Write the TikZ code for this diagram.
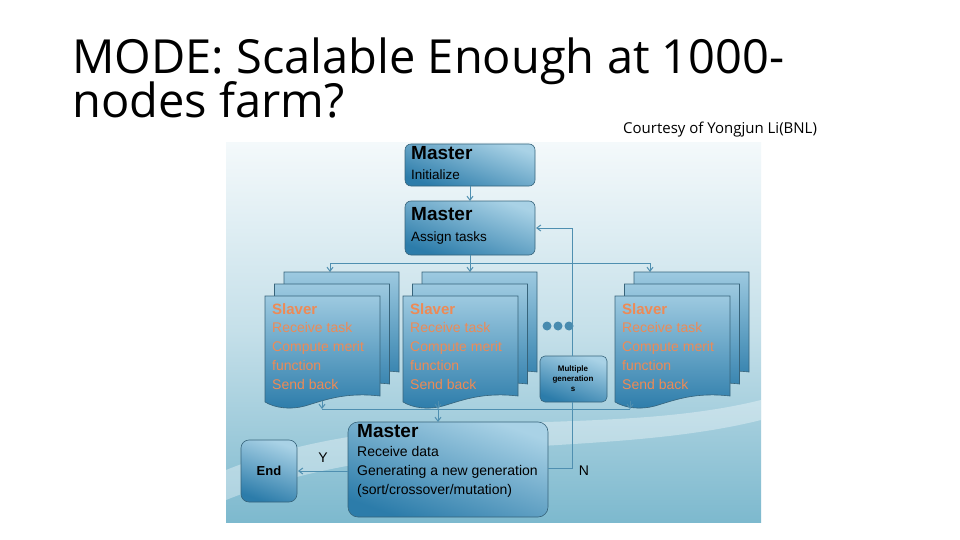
\documentclass[tikz,border=0pt]{standalone}
\usepackage{fontspec}
\setmainfont{Liberation Sans}
\newfontfamily\titlefont{Open Sans}
\usetikzlibrary{arrows.meta}
\definecolor{bl}{HTML}{A9D2E6}
\definecolor{bd}{HTML}{2C7CAA}
\definecolor{ln}{HTML}{4F8FB0}
\definecolor{og}{HTML}{EE8A55}
\definecolor{bgt}{HTML}{F4F9FB}
\definecolor{bgb}{HTML}{7DB9CE}
\tikzset{
  mbox/.style={draw=ln!70!black, line width=0.6pt, rounded corners=6pt, top color=bl, bottom color=bd, shading angle=-20},
  conn/.style={ln, line width=1pt, -{Straight Barb[length=4pt,width=6pt]}},
  plain/.style={ln, line width=1pt},
  ttl/.style={font=\bfseries\fontsize{19}{20}\selectfont, anchor=north west, inner sep=0},
  sub/.style={font=\fontsize{13.5}{16}\selectfont, anchor=north west, inner sep=0, align=left},
  bigt/.style={font=\titlefont\fontsize{47}{44}\selectfont, anchor=base west, inner sep=0},
  pics/sheet/.style={code={
    \path[draw=ln!70!black, line width=0.6pt, top color=bl!90!bd, bottom color=bd]
      (0,0) -- (115,0) -- (115,100) .. controls (80,96) and (60,104) .. (40,110)
      .. controls (25,114) and (10,112) .. (0,106) -- cycle;}}
}
\begin{document}
\begin{tikzpicture}[x=1pt,y=-1pt]
\useasboundingbox (0,0) rectangle (960,540);
\fill[white] (0,0) rectangle (960,540);
% title
\node[bigt] (title1) at (72,74) {MODE: Scalable Enough at 1000-};
\node[bigt] (title2) at (72,118) {nodes farm?};
\node[font=\titlefont\fontsize{15}{16}\selectfont, anchor=base west, inner sep=0] (court) at (623,134) {Courtesy of Yongjun Li(BNL)};
% panel
\shade[top color=bgt, bottom color=bgb, middle color=bgt!60!bgb] (226,143) rectangle (761,522);
\fill[white, opacity=0.35] (226,470) .. controls (400,400) and (600,440) .. (761,400) -- (761,420) .. controls (600,460) and (400,430) .. (226,500) -- cycle;
% master boxes
\path[mbox] (405,144) rectangle (535,186);
\node[ttl] (m1t) at (411,146) {Master};
\node[sub] (m1s) at (411,170) {Initialize};
\coordinate (m1b) at (470,186);
\path[mbox] (405,201) rectangle (535,255);
\node[ttl] (m2t) at (411,207) {Master};
\node[sub] (m2s) at (411,232) {Assign tasks};
\coordinate (m2top) at (470,201);
\coordinate (m2b) at (470,255);
\coordinate (m2r) at (536,228);
\draw[conn] (m1b) -- (m2top);
% distribution
\coordinate (dl) at (330,263); \coordinate (dr) at (650,263); \coordinate (dm) at (470,263);
\draw[plain] (m2b) -- (dm);
\draw[plain] (dl) -- (dr);
\draw[conn] (dl) -- ++(0,9);
\draw[conn] (dm) -- ++(0,9);
\draw[conn] (dr) -- ++(0,9);
% sheets
\foreach \x/\n in {265/a,403/b,615/c}{
  \pic at (\x+19,272) {sheet};
  \pic at (\x+9.5,284) {sheet};
  \pic at (\x,296) {sheet};
  \node[font=\bfseries\fontsize{15}{17}\selectfont, og, anchor=north west, inner sep=0, align=left] (s\n) at (\x+7,303) {Slaver};
  \node[font=\fontsize{14}{19}\selectfont, og, anchor=north west, inner sep=0, align=left] (s\n2) at (\x+7,322) {Receive task\\Compute merit\\function\\Send back};
}
% dots
\foreach \d in {547,558,569} \fill[ln!80!bd] (\d,326) circle (4.5);
% multiple generations
\path[mbox, rounded corners=5pt] (540,356) rectangle (607,402);
\node[font=\bfseries\fontsize{8}{10}\selectfont, align=center, inner sep=0] (mg) at (573,379) {Multiple\\generation\\s};
% collection
\coordinate (cl) at (322,409); \coordinate (cr) at (630,409); \coordinate (cm) at (438,409);
\draw[plain] (cl) -- (cr);
\draw[conn] (322,401) -- (cl);
\draw[conn] (438,401) -- (cm);
\draw[conn] (630,401) -- (cr);
% master 3
\path[mbox, rounded corners=10pt] (348,422) rectangle (548,517);
\node[ttl] (m3t) at (357,424) {Master};
\node[sub, font=\fontsize{14}{19}\selectfont] (m3s) at (357,446) {Receive data\\Generating a new generation\\(sort/crossover/mutation)};
\draw[conn] (cm) -- (438,422);
% end
\path[mbox, rounded corners=8pt] (241,440) rectangle (297,502);
\node[font=\bfseries\fontsize{13}{14}\selectfont] (end) at (269,471) {End};
\draw[conn] (348,471) -- (298,471);
\node[font=\fontsize{14}{15}\selectfont] (y) at (323,458) {Y};
% feedback
\draw[plain] (548,468) -- (572,468) -- (572,402);
\draw[plain] (572,356) -- (572,228);
\draw[conn] (572,228) -- (m2r);
\node[font=\fontsize{14}{15}\selectfont] (n) at (584,471) {N};
\end{tikzpicture}
\end{document}
